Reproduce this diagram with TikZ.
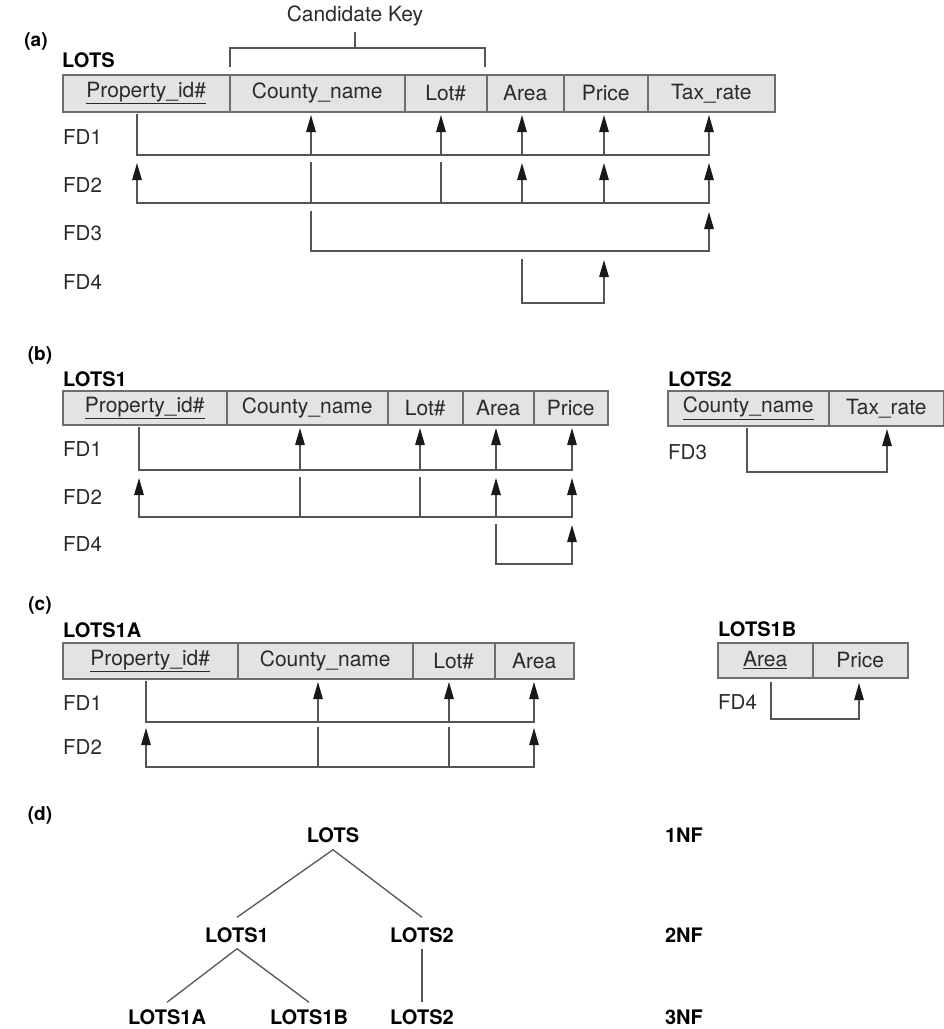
\documentclass[tikz,border=0pt]{standalone}
\usepackage{fontspec}
\setmainfont{TeX Gyre Heros}
\usetikzlibrary{arrows.meta}
\definecolor{cellfill}{HTML}{E3E3E3}
\definecolor{cellline}{HTML}{6E6E6E}
\definecolor{fdline}{HTML}{555555}
\definecolor{celltext}{HTML}{2A2A2A}
\tikzset{
 cell/.style={draw=cellline, fill=cellfill, line width=1.5pt, inner sep=0pt,
   anchor=north west, text=celltext, font=\fontsize{21}{25}\selectfont},
 fdlab/.style={font=\fontsize{20.5}{24}\selectfont, anchor=west, inner sep=0pt, text=celltext},
 tname/.style={font=\bfseries\fontsize{20}{24}\selectfont, anchor=west, inner sep=0pt},
 plab/.style={font=\bfseries\fontsize{19}{24}\selectfont, inner sep=0pt},
 fd/.style={draw=fdline, line width=1.3pt, line cap=rect},
 fdarr/.style={fd, -{Triangle[length=17pt,width=9.5pt,color=black!90]}},
 tree/.style={draw=fdline, line width=1.3pt},
 tnode/.style={font=\bfseries\fontsize{20}{24}\selectfont, inner sep=0pt}
}
\newcommand\fdup[3]{\draw[fdarr] (#1 |- 0,#2) -- (#1 |- 0,#3);}
\newcommand\fdln[3]{\draw[fd] (#1 |- 0,#2) -- (#1 |- 0,#3);}
\newcommand\keyul[1]{\underline{#1}}
\begin{document}
\begin{tikzpicture}[x=1pt,y=-1pt]
\useasboundingbox (0,0) rectangle (944,1029);

% ---------------- (a) ----------------
\node[plab] (pa) at (36,41) {(a)};
\node[font=\fontsize{21}{25}\selectfont, inner sep=0pt, text=celltext] (ck) at (355,16) {Candidate Key};
\coordinate (ckl) at (230,67);
\coordinate (ckr) at (485,67);
\draw[fd, line cap=butt] (ckl) -- (ckl |- 0,48) -- (ckr |- 0,48) -- (ckr);
\draw[fd, line cap=butt] (ck.south |- 0,32) -- (ck.south |- 0,48);
\node[tname] (lots) at (62,60) {LOTS};
\begin{scope}[every node/.append style={minimum height=37pt}]
\node[cell, minimum width=167pt] (a1) at (62,74) {\keyul{Property\_id\#}};
\node[cell, minimum width=175pt] (a2) at (229,74) {County\_name};
\node[cell, minimum width=82pt] (a3) at (404,74) {Lot\#};
\node[cell, minimum width=77pt] (a4) at (486,74) {Area};
\node[cell, minimum width=84pt] (a5) at (563,74) {Price};
\node[cell, minimum width=127pt] (a6) at (647,74) {Tax\_rate};
\end{scope}
\coordinate (A1) at (137,111);
\coordinate (A2) at (311,111);
\coordinate (A3) at (441,111);
\coordinate (A4) at (522,111);
\coordinate (A5) at (604,111);
\coordinate (A6) at (709,111);
\node[fdlab] (afd1) at (63,137) {FD1};
\node[fdlab] (afd2) at (63,185) {FD2};
\node[fdlab] (afd3) at (63,233) {FD3};
\node[fdlab] (afd4) at (63,282) {FD4};
% FD1
\draw[fd] (A1 |- 0,115) -- (A1 |- 0,155) -- (A6 |- 0,155);
\fdup{A2}{155}{115}\fdup{A3}{155}{115}\fdup{A4}{155}{115}\fdup{A5}{155}{115}\fdup{A6}{155}{115}
% FD2
\draw[fd] (A1 |- 0,203) -- (A6 |- 0,203);
\fdup{A1}{203}{163}\fdln{A2}{163}{203}\fdln{A3}{163}{203}\fdup{A4}{203}{163}\fdup{A5}{203}{163}\fdup{A6}{203}{163}
% FD3
\draw[fd] (A2 |- 0,212) -- (A2 |- 0,251) -- (A6 |- 0,251);
\fdup{A6}{251}{212}
% FD4
\draw[fd] (A4 |- 0,260) -- (A4 |- 0,303) -- (A5 |- 0,303);
\fdup{A5}{303}{260}

% ---------------- (b) ----------------
\node[plab] (pb) at (40,355) {(b)};
\node[tname] (lots1) at (63,379) {LOTS1};
\begin{scope}[every node/.append style={minimum height=34pt}]
\node[cell, minimum width=164pt] (b1) at (62,390) {\keyul{Property\_id\#}};
\node[cell, minimum width=161pt] (b2) at (226,390) {County\_name};
\node[cell, minimum width=75pt] (b3) at (387,390) {Lot\#};
\node[cell, minimum width=71pt] (b4) at (462,390) {Area};
\node[cell, minimum width=74pt] (b5) at (533,390) {Price};
\end{scope}
\coordinate (B1) at (139,424);
\coordinate (B2) at (300,424);
\coordinate (B3) at (420,424);
\coordinate (B4) at (496,424);
\coordinate (B5) at (572,424);
\node[fdlab] (bfd1) at (63,449) {FD1};
\node[fdlab] (bfd2) at (63,497) {FD2};
\node[fdlab] (bfd4) at (63,544) {FD4};
\draw[fd] (B1 |- 0,428) -- (B1 |- 0,470) -- (B5 |- 0,470);
\fdup{B2}{470}{428}\fdup{B3}{470}{428}\fdup{B4}{470}{428}\fdup{B5}{470}{428}
\draw[fd] (B1 |- 0,517) -- (B5 |- 0,517);
\fdup{B1}{517}{478}\fdln{B2}{478}{517}\fdln{B3}{478}{517}\fdup{B4}{517}{478}\fdup{B5}{517}{478}
\draw[fd] (B4 |- 0,525) -- (B4 |- 0,564) -- (B5 |- 0,564);
\fdup{B5}{564}{525}

% LOTS2
\node[tname] (lots2) at (668,379) {LOTS2};
\begin{scope}[every node/.append style={minimum height=35pt}]
\node[cell, minimum width=161pt] (d1) at (667,390) {\keyul{County\_name}};
\node[cell, minimum width=115pt] (d2) at (828,390) {Tax\_rate};
\end{scope}
\coordinate (D1) at (747,425);
\coordinate (D2) at (887,425);
\node[fdlab] (dfd3) at (668,452) {FD3};
\draw[fd] (D1 |- 0,429) -- (D1 |- 0,472) -- (D2 |- 0,472);
\fdup{D2}{472}{429}

% ---------------- (c) ----------------
\node[plab] (pc) at (40,605) {(c)};
\node[tname] (lots1a) at (63,630) {LOTS1A};
\begin{scope}[every node/.append style={minimum height=36pt}]
\node[cell, minimum width=175pt] (c1) at (62,642) {\keyul{Property\_id\#}};
\node[cell, minimum width=175pt] (c2) at (237,642) {County\_name};
\node[cell, minimum width=82pt] (c3) at (412,642) {Lot\#};
\node[cell, minimum width=79pt] (c4) at (494,642) {Area};
\end{scope}
\coordinate (C1) at (146,678);
\coordinate (C2) at (318,678);
\coordinate (C3) at (449,678);
\coordinate (C4) at (534,678);
\node[fdlab] (cfd1) at (63,703) {FD1};
\node[fdlab] (cfd2) at (63,747) {FD2};
\draw[fd] (C1 |- 0,682) -- (C1 |- 0,722) -- (C4 |- 0,722);
\fdup{C2}{722}{682}\fdup{C3}{722}{682}\fdup{C4}{722}{682}
\draw[fd] (C1 |- 0,767) -- (C4 |- 0,767);
\fdup{C1}{767}{728}\fdln{C2}{728}{767}\fdln{C3}{728}{767}\fdup{C4}{767}{728}

% LOTS1B
\node[tname] (lots1b) at (718,629) {LOTS1B};
\begin{scope}[every node/.append style={minimum height=35pt}]
\node[cell, minimum width=95pt] (e1) at (717,642) {\keyul{Area}};
\node[cell, minimum width=95pt] (e2) at (812,642) {Price};
\end{scope}
\coordinate (E1) at (771,677);
\coordinate (E2) at (859,677);
\node[fdlab] (efd4) at (718,702) {FD4};
\draw[fd] (E1 |- 0,683) -- (E1 |- 0,719) -- (E2 |- 0,719);
\fdup{E2}{719}{683}

% ---------------- (d) ----------------
\node[plab] (pd) at (40,815) {(d)};
\node[tnode] (t0) at (333,835) {LOTS};
\node[tnode] (t1) at (237,935) {LOTS1};
\node[tnode] (t2) at (422,935) {LOTS2};
\node[tnode] (t1a) at (167,1017) {LOTS1A};
\node[tnode] (t1b) at (309,1017) {LOTS1B};
\node[tnode] (t2b) at (422,1017) {LOTS2};
\node[tnode] (nf1) at (684,835) {1NF};
\node[tnode] (nf2) at (684,935) {2NF};
\node[tnode] (nf3) at (684,1017) {3NF};
\draw[tree] ([yshift=-7pt]t0.south) -- ([yshift=10pt]t1.north);
\draw[tree] ([yshift=-7pt]t0.south) -- ([yshift=10pt]t2.north);
\draw[tree] ([yshift=-6pt]t1.south) -- ([yshift=7pt]t1a.north);
\draw[tree] ([yshift=-6pt]t1.south) -- ([yshift=7pt]t1b.north);
\draw[tree] ([yshift=-6pt]t2.south) -- ([yshift=7pt]t2b.north);
\end{tikzpicture}
\end{document}
